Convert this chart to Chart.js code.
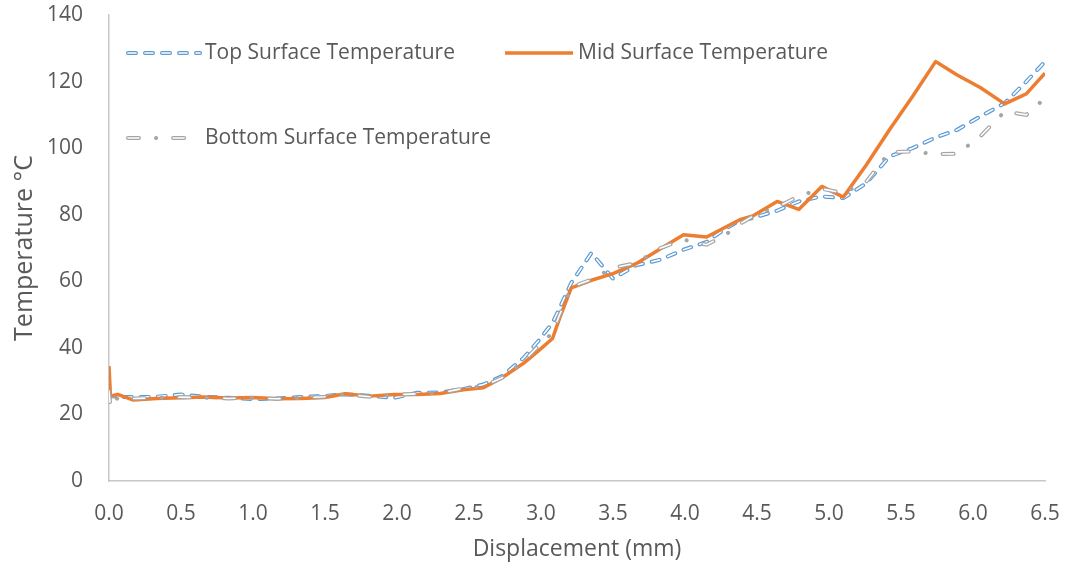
<!DOCTYPE html>
<html>
<head>
<meta charset="utf-8">
<script src="https://cdn.jsdelivr.net/npm/chart.js@4/dist/chart.umd.min.js"></script>
<style>
  html, body { margin: 0; padding: 0; background: #fff; }
  #wrap { width: 1067px; height: 567px; position: relative; }
</style>
</head>
<body>
<div id="wrap"><canvas id="chart"></canvas></div>
<script>
// displacement (mm) shared by the three thermocouple traces
const displacement = [0, 0.01, 0.06, 0.17, 0.33, 0.5, 0.66, 0.83, 1.0, 1.16, 1.33, 1.5, 1.64, 1.81, 1.98,
  2.14, 2.3, 2.46, 2.6, 2.73, 2.88, 2.98, 3.08, 3.13, 3.21, 3.35, 3.5, 3.66, 3.83, 3.99, 4.15, 4.27,
  4.38, 4.47, 4.64, 4.79, 4.95, 5.1, 5.26, 5.42, 5.58, 5.74, 5.89, 6.05, 6.22, 6.37, 6.5];

const topTemp = [24.5, 25.5, 25.3, 25.2, 25.3, 26, 25.3, 25, 24.6, 24.8, 25.2, 25.6, 26, 25.6, 25,
  26.5, 26.6, 27.6, 29, 31.5, 37, 42, 47.5, 52, 59.5, 68.5, 60.8, 64.8, 66.5, 69.5, 71.8, 75.5,
  78.3, 79, 81.2, 84, 85.5, 85, 89.5, 97.5, 100, 103.2, 105.5, 109.5, 113.5, 120, 126];

const midTemp = [34.5, 25.5, 26, 24.3, 24.8, 25, 25.2, 24.9, 25.1, 24.7, 24.8, 25.1, 26.2, 25.5, 26,
  26, 26.3, 27.4, 28, 31, 35.4, 39, 42.8, 49, 58, 60.3, 62.3, 65.3, 69.8, 74, 73.3, 76,
  78.5, 79.6, 84, 81.6, 88.5, 85.3, 95, 105.5, 115.5, 126, 122, 118.2, 113.3, 116.3, 122.5];

const bottomTemp = [27, 22, 25, 24.8, 25, 25.2, 25, 24.8, 25, 24.7, 25, 25.3, 26, 25.3, 25.9,
  26.2, 26.5, 27.8, 28.5, 31, 36, 40.5, 44.5, 50, 58.3, 60.5, 64, 65.5, 70, 72.5, 71, 73.6,
  77.2, 79.5, 82.3, 85.6, 87.8, 86.5, 90, 98.8, 99, 98.2, 98.3, 103.5, 111, 110, 115];

const seriesNames = ['Top Surface Temperature', 'Mid Surface Temperature', 'Bottom Surface Temperature'];

const BLUE = '#5B9BD5', ORANGE = '#ED7D31', GREY = '#A5A5A5', TEXT = '#595959';
const FONT = "'Open Sans', sans-serif";

const blueDash = [8, 9];
const greyDash = [11, 17, 0.1, 17];
const greyInnerDash = [11, 34.1];

const pts = ys => displacement.map((x, i) => ({ x: x, y: ys[i] }));

// hollow dashes: a wide coloured stroke with a thin white stroke on top
const datasets = [
  { label: seriesNames[0], data: pts(topTemp), borderColor: BLUE, borderWidth: 4,
    borderDash: blueDash, borderCapStyle: 'round', order: 5 },
  { label: '', data: pts(topTemp), borderColor: '#fff', borderWidth: 1.6,
    borderDash: blueDash, borderCapStyle: 'round', order: 4 },
  { label: seriesNames[1], data: pts(midTemp), borderColor: ORANGE, borderWidth: 3.5,
    borderJoinStyle: 'round', order: 3 },
  { label: seriesNames[2], data: pts(bottomTemp), borderColor: GREY, borderWidth: 4,
    borderDash: greyDash, borderCapStyle: 'round', order: 2 },
  { label: '', data: pts(bottomTemp), borderColor: '#fff', borderWidth: 1.6,
    borderDash: greyInnerDash, borderCapStyle: 'round', order: 1 }
];

// legend sits inside the plot, two entries on the first row
const legendItems = [
  { ds: 0, inner: 1, x: 128, y: 53, len: 72, textX: 205 },
  { ds: 2, x: 505, y: 53, len: 68, textX: 578 },
  { ds: 3, inner: 4, x: 128, y: 138, len: 60, textX: 205 }
];

function strokeSample(ctx, d, x, y, len) {
  ctx.save();
  ctx.strokeStyle = d.borderColor;
  ctx.lineWidth = d.borderWidth;
  ctx.lineCap = d.borderCapStyle || 'butt';
  ctx.setLineDash(d.borderDash || []);
  ctx.beginPath();
  ctx.moveTo(x, y);
  ctx.lineTo(x + len, y);
  ctx.stroke();
  ctx.restore();
}

const insideLegend = {
  id: 'insideLegend',
  afterDraw(chart) {
    const ctx = chart.ctx;
    const ds = chart.data.datasets;
    legendItems.forEach(item => {
      strokeSample(ctx, ds[item.ds], item.x, item.y, item.len);
      if (item.inner !== undefined) strokeSample(ctx, ds[item.inner], item.x, item.y, item.len);
      ctx.save();
      ctx.fillStyle = TEXT;
      ctx.font = '21px ' + FONT;
      ctx.textBaseline = 'middle';
      ctx.fillText(ds[item.ds].label, item.textX, item.y);
      ctx.restore();
    });
  }
};

new Chart(document.getElementById('chart'), {
  type: 'line',
  data: { datasets: datasets },
  plugins: [insideLegend],
  options: {
    responsive: true,
    maintainAspectRatio: false,
    animation: false,
    layout: { padding: { top: 15, right: 22, left: 0, bottom: 0 } },
    elements: { point: { radius: 0 }, line: { tension: 0 } },
    plugins: { legend: { display: false }, tooltip: { enabled: false } },
    scales: {
      x: {
        type: 'linear', min: 0, max: 6.5,
        grid: { display: false },
        border: { display: true, color: '#C8C8C8', width: 1.5 },
        afterFit: s => { s.height = 86; s.paddingLeft = 0; s.paddingRight = 0; },
        ticks: { stepSize: 0.5, color: TEXT, padding: 12, maxRotation: 0,
          font: { family: FONT, size: 21 }, callback: v => v.toFixed(1) },
        title: { display: true, text: 'Displacement (mm)', color: TEXT,
          font: { family: FONT, size: 23 }, padding: { top: 6 } }
      },
      y: {
        min: 0, max: 140,
        grid: { display: false },
        border: { display: true, color: '#C8C8C8', width: 1.5 },
        afterFit: s => { s.width = 109; s.paddingTop = 0; s.paddingBottom = 0; },
        ticks: { stepSize: 20, color: TEXT, padding: 18, font: { family: FONT, size: 21 } },
        title: { display: true, text: 'Temperature °C', color: TEXT,
          font: { family: FONT, size: 25 }, padding: { top: 10 } }
      }
    }
  }
});
</script>
</body>
</html>
